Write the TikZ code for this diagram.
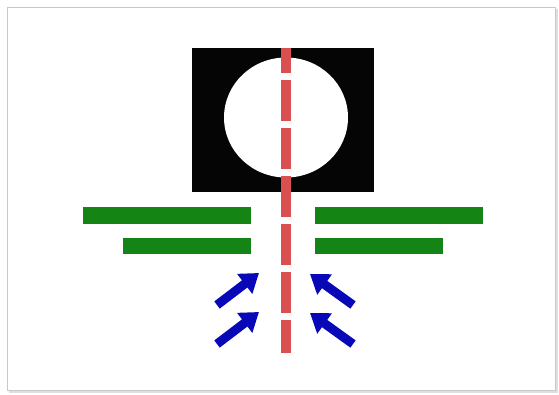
\documentclass[tikz,border=0pt]{standalone}
\usetikzlibrary{arrows.meta}
\definecolor{barGreen}{RGB}{20,132,20}
\definecolor{axisRed}{RGB}{218,80,80}
\definecolor{arrBlue}{RGB}{8,8,185}
\definecolor{frameGray}{RGB}{200,200,200}
\tikzset{
  bar/.style={fill=barGreen, draw=none},
  flowarrow/.style={draw=arrBlue, line width=9pt, -{Triangle[length=18pt,width=24pt]}},
  axisline/.style={draw=axisRed, line width=9.5pt, dash pattern=on 41pt off 7pt, dash phase=16pt},
}
\begin{document}
\begin{tikzpicture}[x=1pt,y=-1pt]
\useasboundingbox (0,0) rectangle (559,394);
\fill[white] (0,0) rectangle (559,394);
% frame with soft shadow
\fill[gray!25] (9,9) rectangle (558,393);
\draw[frameGray, fill=white, line width=1pt] (7,7) rectangle (555,390);
% black square and white circle
\fill[black!98] (192,48) rectangle (374,192);
\fill[white] (286,117.5) ellipse (62 and 60);
% green bars
\fill[bar] (83,207) rectangle (251,224);
\fill[bar] (315,207) rectangle (483,224);
\fill[bar] (123,238) rectangle (251,254);
\fill[bar] (315,238) rectangle (443,254);
% red dashed axis
\coordinate (axtop) at (286,48);
\coordinate (axbot) at (286,353);
\draw[axisline] (axtop) -- (axbot);
% blue arrows
\coordinate (l1t) at (217,305); \coordinate (l1h) at (259,273);
\coordinate (l2t) at (217,344); \coordinate (l2h) at (259,312);
\coordinate (r1t) at (353,305); \coordinate (r1h) at (310,274);
\coordinate (r2t) at (353,344); \coordinate (r2h) at (310,313);
\draw[flowarrow] (l1t) -- (l1h);
\draw[flowarrow] (l2t) -- (l2h);
\draw[flowarrow] (r1t) -- (r1h);
\draw[flowarrow] (r2t) -- (r2h);
\end{tikzpicture}
\end{document}
